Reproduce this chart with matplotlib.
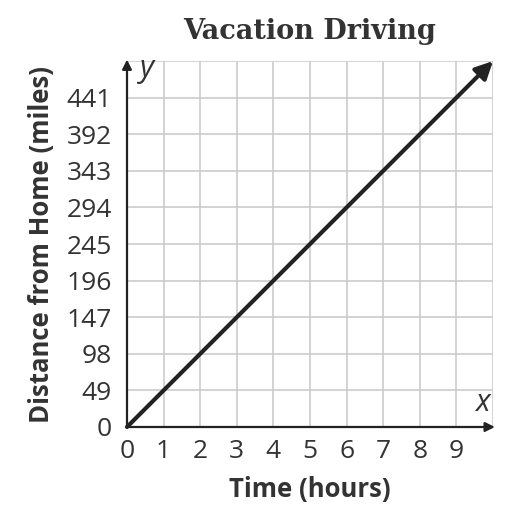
import matplotlib.pyplot as plt

hours = [0, 1, 2, 3, 4, 5, 6, 7, 8, 9]
miles = [0, 49, 98, 147, 196, 245, 294, 343, 392, 441]
line_x = [0, 10]
line_y = [0, 490]

text_color = '#333333'
grid_color = '#cccccc'
ink = '#222222'

fig = plt.figure(figsize=(5.08, 5.22), dpi=100)
ax = fig.add_axes([0.25, 0.182, 0.7205, 0.701])

ax.set_xlim(0, 10)
ax.set_ylim(0, 490)

# grid every unit / every 49 miles
for gx in range(1, 11):
    ax.axvline(gx, color=grid_color, lw=1.2, zorder=1)
for gy in miles[1:] + [490]:
    ax.axhline(gy, color=grid_color, lw=1.2, zorder=1)

for s in ax.spines.values():
    s.set_visible(False)

# axes with arrows
ax.annotate('', xy=(10.05, 0), xytext=(0, 0),
            arrowprops=dict(arrowstyle='-|>', lw=1.6, color=ink, mutation_scale=14,
                            shrinkA=0, shrinkB=0), annotation_clip=False, zorder=3)
ax.annotate('', xy=(0, 492), xytext=(0, 0),
            arrowprops=dict(arrowstyle='-|>', lw=1.6, color=ink, mutation_scale=14,
                            shrinkA=0, shrinkB=0), annotation_clip=False, zorder=3)

# the data line
ax.annotate('', xy=(line_x[1], line_y[1]), xytext=(line_x[0], line_y[0]),
            arrowprops=dict(arrowstyle='-|>', lw=3, color=ink, mutation_scale=26,
                            shrinkA=0, shrinkB=0), annotation_clip=False, zorder=4)

ax.text(9.72, 12, 'x', style='italic', fontsize=22, color=text_color,
        family='Open Sans', ha='center', va='bottom')
ax.text(0.55, 500, 'y', style='italic', fontsize=22, color=text_color,
        family='Open Sans', ha='center', va='top')

ax.set_xticks(hours)
ax.set_xticklabels([str(h) for h in hours])
ax.set_yticks(miles)
ax.set_yticklabels([str(m) for m in miles])
ax.tick_params(length=0, labelsize=19, labelcolor=text_color)
ax.tick_params(axis='x', pad=9)
ax.tick_params(axis='y', pad=11)
for lab in ax.get_xticklabels() + ax.get_yticklabels():
    lab.set_family('Open Sans')

ax.set_xlabel('Time (hours)', fontsize=18.5, fontweight='bold', color=text_color,
              family='Open Sans', labelpad=8)
ax.set_ylabel('Distance from Home (miles)', fontsize=18.5, fontweight='bold',
              color=text_color, family='Open Sans', labelpad=8)
ax.set_title('Vacation Driving', fontsize=19.5, fontweight='bold', color=text_color,
             family='DejaVu Serif', pad=16)

plt.savefig('out.png', dpi=100)
